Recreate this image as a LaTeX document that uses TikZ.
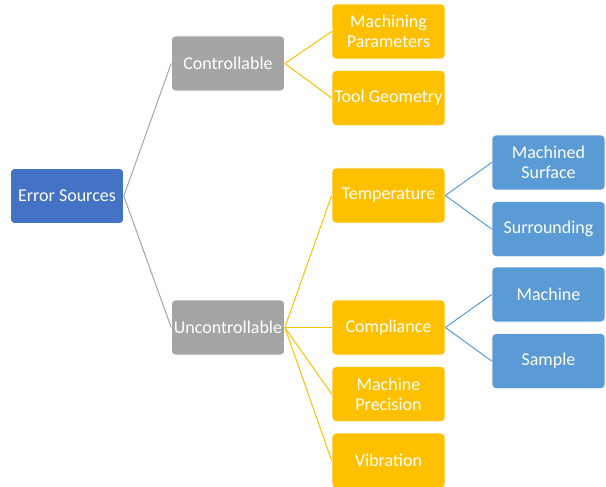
\documentclass[tikz,border=0pt]{standalone}
\usepackage{fontspec}
\setmainfont{Carlito}
\usetikzlibrary{positioning}
\definecolor{rootblue}{HTML}{4472C4}
\definecolor{midgray} {HTML}{A5A5A5}
\definecolor{gold}    {HTML}{FFC000}
\definecolor{leafblue}{HTML}{5B9BD5}

\tikzset{
  box/.style={draw=white,line width=0.6pt,rounded corners=4bp,text=white,
              minimum width=113bp,minimum height=55bp,align=center,inner sep=1bp,
              font=\fontsize{18bp}{20bp}\selectfont},
  link/.style={line width=1bp}
}

\begin{document}
\begin{tikzpicture}[x=1bp,y=-1bp]
  \useasboundingbox (0,0) rectangle (606,487);
  % levels 0 and 1
  \node[box,fill=rootblue] (err)    at (67,196)    {Error Sources};
  \node[box,fill=midgray]  (ctrl)   at (228,63.5)  {Controllable};
  \node[box,fill=midgray]  (unctrl) at (228,327.5) {Uncontrollable};
  % level 2
  \node[box,fill=gold] (mp)   at (388.5,31.5)  {Machining\\Parameters};
  \node[box,fill=gold,below=11bp of mp] (tg) {Tool Geometry};
  \node[box,fill=gold] (temp) at (388.5,195.5) {Temperature};
  \node[box,fill=gold] (comp) at (388.5,327.5) {Compliance};
  \node[box,fill=gold,below=11bp of comp] (prec) {Machine\\Precision};
  \node[box,fill=gold,below=11bp of prec] (vib)  {Vibration};
  % level 3
  \node[box,fill=leafblue] (surf) at (548.5,162.5) {Machined\\Surface};
  \node[box,fill=leafblue,below=11bp of surf] (surr) {Surrounding};
  \node[box,fill=leafblue] (mach) at (548.5,294.5) {Machine};
  \node[box,fill=leafblue,below=11bp of mach] (samp) {Sample};

  % connectors
  \foreach \c in {ctrl,unctrl}
    \draw[link,midgray] (err.east) -- (\c.west);
  \foreach \c in {mp,tg}
    \draw[link,gold] (ctrl.east) -- (\c.west);
  \foreach \c in {temp,comp,prec,vib}
    \draw[link,gold] (unctrl.east) -- (\c.west);
  \foreach \c in {surf,surr}
    \draw[link,leafblue] (temp.east) -- (\c.west);
  \foreach \c in {mach,samp}
    \draw[link,leafblue] (comp.east) -- (\c.west);
\end{tikzpicture}
\end{document}
